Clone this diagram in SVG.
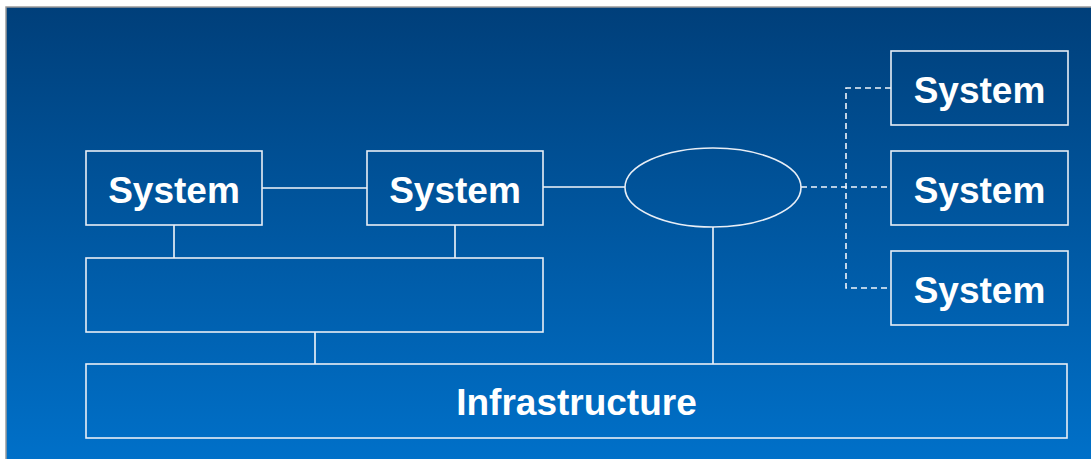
<svg xmlns="http://www.w3.org/2000/svg" width="1091" height="459" viewBox="0 0 1091 459">
<defs>
<linearGradient id="bg" x1="0" y1="0" x2="0" y2="1">
<stop offset="0" stop-color="#003f7a"/>
<stop offset="1" stop-color="#0071ca"/>
</linearGradient>
<style>
.box{fill:none;stroke:#e8eef6;stroke-width:1.6}
.ln{fill:none;stroke:#f2f6fb;stroke-width:1.6}
.dash{fill:none;stroke:#f2f6fb;stroke-width:1.6;stroke-dasharray:6 4}
.t{font-family:"Liberation Sans",Arial,sans-serif;font-weight:bold;font-size:37px;fill:#ffffff;text-anchor:middle}
</style>
</defs>
<rect x="0" y="0" width="1091" height="459" fill="#ffffff"/>
<rect x="6" y="7" width="1090" height="460" fill="url(#bg)" stroke="#9a9a9a" stroke-width="1.5"/>
<g id="connectors">
<line class="ln" x1="262" y1="188" x2="367" y2="188"/>
<line class="ln" x1="543" y1="187" x2="625" y2="187"/>
<line class="ln" x1="174" y1="225" x2="174" y2="258"/>
<line class="ln" x1="455" y1="225" x2="455" y2="258"/>
<line class="ln" x1="315" y1="332" x2="315" y2="364"/>
<line class="ln" x1="713" y1="227" x2="713" y2="364"/>
<line class="dash" x1="801" y1="187" x2="891" y2="187"/>
<polyline class="dash" points="891,88 846,88 846,288 891,288"/>
</g>
<g id="sys1"><rect class="box" x="86" y="151" width="176" height="74"/><text class="t" x="174" y="203">System</text></g>
<g id="sys2"><rect class="box" x="367" y="151" width="176" height="74"/><text class="t" x="455" y="203">System</text></g>
<g id="middle"><rect class="box" x="86" y="258" width="457" height="74"/></g>
<g id="hub"><ellipse class="box" cx="713" cy="187.5" rx="88" ry="39.5"/></g>
<g id="sys3"><rect class="box" x="891" y="51" width="177" height="74"/><text class="t" x="979.5" y="103">System</text></g>
<g id="sys4"><rect class="box" x="891" y="151" width="177" height="74"/><text class="t" x="979.5" y="203">System</text></g>
<g id="sys5"><rect class="box" x="891" y="251" width="177" height="74"/><text class="t" x="979.5" y="303">System</text></g>
<g id="infra"><rect class="box" x="86" y="364" width="981" height="74"/><text class="t" x="576.5" y="415">Infrastructure</text></g>
</svg>
